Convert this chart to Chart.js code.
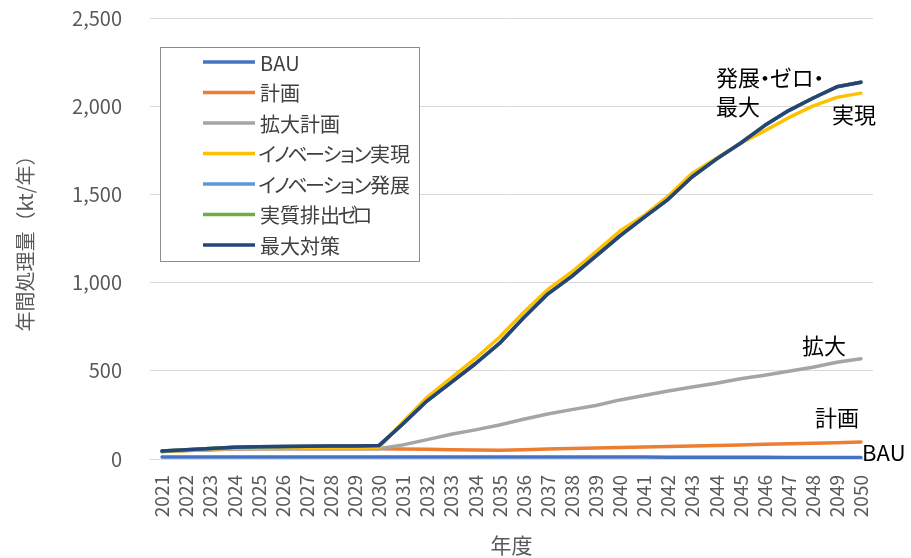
<!DOCTYPE html>
<html lang="ja">
<head>
<meta charset="utf-8">
<script src="https://cdn.jsdelivr.net/npm/chart.js@4.4.1/dist/chart.umd.min.js"></script>
<style>
  html, body { margin: 0; padding: 0; background: #ffffff; }
</style>
</head>
<body>
<canvas id="chart" width="911" height="558"></canvas>
<script>
// Categories (fiscal years)
const years = [
  "2021", "2022", "2023", "2024", "2025", "2026", "2027", "2028", "2029", "2030",
  "2031", "2032", "2033", "2034", "2035", "2036", "2037", "2038", "2039", "2040",
  "2041", "2042", "2043", "2044", "2045", "2046", "2047", "2048", "2049", "2050",
];

// Series names, in legend order
const seriesNames = ["BAU", "計画", "拡大計画", "イノベーション実現", "イノベーション発展", "実質排出ゼロ", "最大対策"];
const seriesColors = ["#4472C4", "#ED7D31", "#A5A5A5", "#FFC000", "#5B9BD5", "#70AD47", "#264478"];

// Values (kt/year)
const bau = [12, 12, 12, 12, 12, 12, 12, 12, 12, 12, 12, 12, 12, 12, 11, 11, 11, 11, 11, 11, 11, 10, 10, 10, 10, 10, 9, 9, 9, 8];
const plan = [43, 48, 53, 57, 58, 58, 58, 58, 58, 58, 57, 55, 53, 51, 50, 53, 56, 59, 62, 65, 68, 71, 74, 77, 80, 83, 86, 89, 92, 97];
const expandPlan = [43, 48, 53, 57, 58, 58, 58, 58, 58, 58, 80, 110, 140, 165, 193, 225, 255, 280, 303, 335, 360, 385, 408, 430, 455, 475, 497, 520, 548, 568];
const innovReal = [43, 49, 56, 61, 63, 64, 64, 64, 64, 65, 210, 350, 460, 570, 690, 830, 960, 1060, 1175, 1292, 1380, 1490, 1620, 1705, 1790, 1860, 1935, 2000, 2050, 2074];
const innovDev = [45, 52, 60, 66, 70, 71, 72, 73, 74, 76, 200, 330, 435, 540, 655, 800, 935, 1035, 1150, 1265, 1370, 1472, 1600, 1700, 1790, 1890, 1975, 2045, 2110, 2136];
const netZero = [45, 52, 60, 66, 70, 71, 72, 73, 74, 76, 200, 330, 435, 540, 655, 800, 935, 1035, 1150, 1265, 1370, 1472, 1600, 1700, 1790, 1890, 1975, 2045, 2110, 2136];
const maxMeasure = [45, 52, 60, 66, 70, 71, 72, 73, 74, 76, 200, 330, 435, 540, 655, 800, 935, 1035, 1150, 1265, 1370, 1472, 1600, 1700, 1790, 1890, 1975, 2045, 2110, 2136];
const seriesValues = [bau, plan, expandPlan, innovReal, innovDev, netZero, maxMeasure];

// Y axis
const yMin = 0;
const yMax = 2500;
const yStep = 500;

// Labels at the end of the lines: series index, text lines, offset from last point
const endLabels = [
  { series: 6, lines: ["発展・ゼロ・", "最大"], dx: -145, dy: -5 },
  { series: 3, lines: ["実現"], dx: -29, dy: 21 },
  { series: 2, lines: ["拡大"], dx: -59, dy: -13 },
  { series: 1, lines: ["計画"], dx: -46, dy: -24 },
  { series: 0, lines: ["BAU"], dx: 1, dy: -5 },
];

const FONT = "'Noto Sans CJK JP', 'Noto Sans', sans-serif";

// draw text with narrower middle dots (and optionally katakana), like the original proportional font
const drawProp = (ctx, text, x, y, em, kanaScale) => {
  let cx = x;
  for (const ch of text) {
    const code = ch.codePointAt(0);
    const w = ctx.measureText(ch).width;
    let adv = w;
    if (ch === "・") adv = em * 0.45;
    else if (code >= 0x30a1 && code <= 0x30fa) adv = em * kanaScale;
    ctx.fillText(ch, cx + (adv - w) / 2, y);
    cx += adv;
  }
};

// Legend box drawn inside the plot area
const boxLegend = {
  id: "boxLegend",
  afterDatasetsDraw(chart) {
    const ctx = chart.ctx;
    const area = chart.chartArea;
    const left = area.left + 10;
    const top = area.top + 29;
    const w = 259;
    const h = 214;
    ctx.save();
    ctx.fillStyle = "#ffffff";
    ctx.fillRect(left, top, w, h);
    ctx.strokeStyle = "#8c8c8c";
    ctx.lineWidth = 1;
    ctx.strokeRect(left + 0.5, top + 0.5, w, h);
    ctx.font = "20px " + FONT;
    ctx.textBaseline = "middle";
    ctx.textAlign = "left";
    seriesNames.forEach((name, i) => {
      const y = top + 15 + i * 30.5;
      ctx.strokeStyle = seriesColors[i];
      ctx.lineWidth = 3.5;
      ctx.beginPath();
      ctx.moveTo(left + 43, y);
      ctx.lineTo(left + 95, y);
      ctx.stroke();
      ctx.fillStyle = "#404040";
      drawProp(ctx, name, left + 100, y + 1, 20, 0.75);
    });
    ctx.restore();
  },
};

// Text labels next to line ends
const lineEndLabels = {
  id: "lineEndLabels",
  afterDatasetsDraw(chart) {
    const ctx = chart.ctx;
    const xs = chart.scales.x;
    const ys = chart.scales.y;
    ctx.save();
    ctx.font = "22px " + FONT;
    ctx.fillStyle = "#000000";
    ctx.textAlign = "left";
    ctx.textBaseline = "middle";
    endLabels.forEach((lab) => {
      const vals = seriesValues[lab.series];
      const last = vals.length - 1;
      const x = xs.getPixelForValue(last) + lab.dx;
      const y = ys.getPixelForValue(vals[last]) + lab.dy;
      lab.lines.forEach((t, k) => drawProp(ctx, t, x, y + k * 29, 22, 1));
    });
    ctx.restore();
  },
};

const datasets = seriesNames.map((name, i) => ({
  label: name,
  data: seriesValues[i],
  borderColor: seriesColors[i],
  backgroundColor: seriesColors[i],
  borderWidth: 3.5,
  pointRadius: 0,
  tension: 0,
  fill: false,
  borderCapStyle: "round",
  borderJoinStyle: "round",
  order: seriesNames.length - i,
}));

new Chart(document.getElementById("chart"), {
  type: "line",
  data: { labels: years, datasets: datasets },
  plugins: [boxLegend, lineEndLabels],
  options: {
    responsive: false,
    animation: false,
    layout: { padding: { left: 0, right: 38, top: 18, bottom: 0 } },
    plugins: {
      legend: { display: false },
      tooltip: { enabled: false },
    },
    scales: {
      x: {
        offset: true,
        grid: { display: false, drawTicks: false },
        border: { display: false },
        ticks: {
          color: "#595959",
          font: { family: FONT, size: 19 },
          minRotation: 90,
          maxRotation: 90,
          autoSkip: false,
          padding: 16,
        },
        title: {
          display: true,
          text: "年度",
          color: "#595959",
          font: { family: FONT, size: 21 },
          padding: { top: 1, bottom: 0 },
        },
        afterFit(scale) {
          scale.height = 99;
          scale.paddingLeft = 0;
          scale.paddingRight = 0;
        },
      },
      y: {
        min: yMin,
        max: yMax,
        grid: { color: "#d9d9d9", lineWidth: 1, drawTicks: false },
        border: { display: false },
        ticks: {
          stepSize: yStep,
          color: "#595959",
          font: { family: FONT, size: 20 },
          padding: 28,
          callback: (v) => v.toLocaleString("en-US"),
        },
        title: {
          display: true,
          text: "年間処理量（kt/年）",
          color: "#595959",
          font: { family: FONT, size: 20 },
          padding: { top: 13, bottom: 0 },
        },
        afterFit(scale) {
          scale.width = 150;
          scale.paddingTop = 0;
          scale.paddingBottom = 0;
        },
      },
    },
  },
});
</script>
</body>
</html>
